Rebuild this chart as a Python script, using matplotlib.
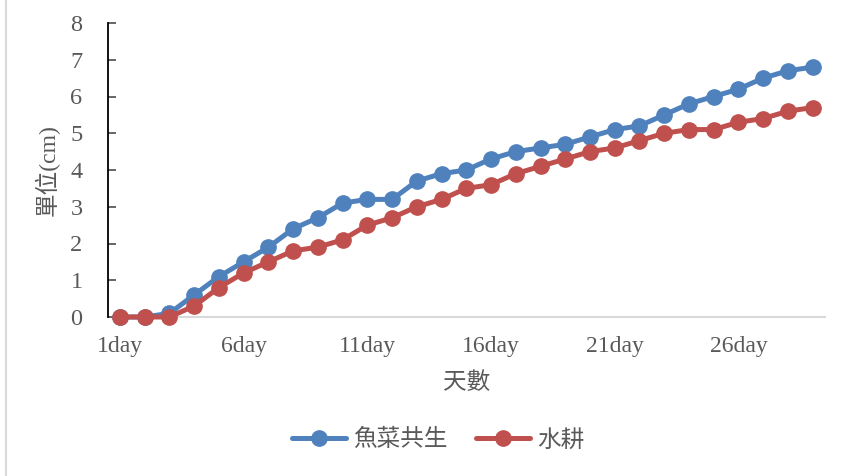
import numpy as np
import matplotlib
matplotlib.use("Agg")
import matplotlib.pyplot as plt
from matplotlib.lines import Line2D

days = [f"{d}day" for d in range(1, 30)]
aquaponics = [0, 0, 0.1, 0.6, 1.1, 1.5, 1.9, 2.4, 2.7, 3.1, 3.2, 3.2, 3.7, 3.9, 4.0,
              4.3, 4.5, 4.6, 4.7, 4.9, 5.1, 5.2, 5.5, 5.8, 6.0, 6.2, 6.5, 6.7, 6.8]
hydroponics = [0, 0, 0, 0.3, 0.8, 1.2, 1.5, 1.8, 1.9, 2.1, 2.5, 2.7, 3.0, 3.2, 3.5,
               3.6, 3.9, 4.1, 4.3, 4.5, 4.6, 4.8, 5.0, 5.1, 5.1, 5.3, 5.4, 5.6, 5.7]
series_names = ["魚菜共生", "水耕"]
colors = ["#4F81BD", "#C0504D"]

serif = ["Liberation Serif", "Noto Sans CJK TC", "DejaVu Sans"]
cjk = ["Noto Sans CJK TC", "DejaVu Sans"]
grey = "#595959"

fig = plt.figure(figsize=(8.47, 4.76), dpi=100)
ax = fig.add_axes([107.6 / 847, 1 - 317 / 476, (825 - 107.6) / 847, (317 - 23) / 476])

x = np.arange(len(days))
for vals, col, name in zip([aquaponics, hydroponics], colors, series_names):
    ax.plot(x, vals, '-', color=col, lw=3.6, marker='o', ms=11,
            label=name, solid_capstyle='round', clip_on=False, zorder=3)

ax.set_xlim(-0.5, len(days) - 0.5)
ax.set_ylim(0, 8)
ax.set_yticks(range(0, 9))
ax.set_xticks(x[::5])
ax.set_xticklabels([days[i] for i in x[::5]])

for s in ["top", "right"]:
    ax.spines[s].set_visible(False)
ax.spines["left"].set_color("black")
ax.spines["left"].set_linewidth(1.3)
ax.spines["bottom"].set_color("#d9d9d9")
ax.spines["bottom"].set_linewidth(1.5)
ax.spines["bottom"].set_zorder(1)

ax.tick_params(axis='y', direction='in', length=6, width=1.3, pad=18, colors=grey,
               labelsize=17.5)
ax.tick_params(axis='x', length=0, pad=14, colors=grey, labelsize=17)
for lab in ax.get_xticklabels() + ax.get_yticklabels():
    lab.set_family(serif)

ax.set_xlabel("天數", family=cjk, fontsize=17, color=grey, labelpad=10)
ax.set_ylabel("單位(cm)", family=serif, fontsize=17, color=grey, labelpad=8)

handles = [Line2D([], [], color=c, lw=3.6, marker='o', ms=11, solid_capstyle='round')
           for c in colors]
leg = fig.legend(handles, series_names, loc='center', bbox_to_anchor=(438 / 847, 1 - 440 / 476),
                 ncol=2, frameon=False, prop={'family': cjk, 'size': 17},
                 handlelength=2.3, columnspacing=1.2, handletextpad=0.3)
for t in leg.get_texts():
    t.set_color(grey)

# left edge of the chart border
fig.add_artist(Line2D([6 / 847, 6 / 847], [0, 1], color="#d9d9d9", lw=1.5,
                      transform=fig.transFigure))

fig.savefig("out.png", dpi=100)
